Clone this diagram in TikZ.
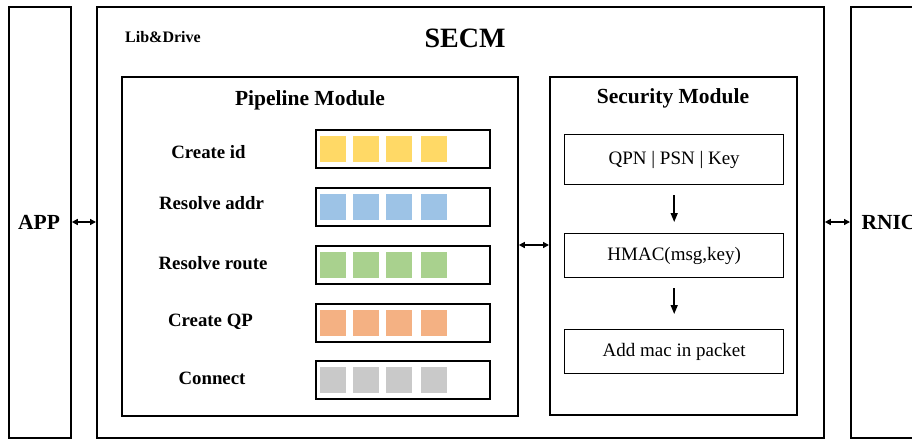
\documentclass[tikz,border=0pt]{standalone}
\usepackage{fontspec}
\setmainfont{Liberation Serif}
\usetikzlibrary{arrows.meta}
\definecolor{cyel}{HTML}{FFD966}
\definecolor{cblu}{HTML}{9DC3E6}
\definecolor{cgrn}{HTML}{A9D18E}
\definecolor{cora}{HTML}{F4B183}
\definecolor{cgry}{HTML}{C9C9C9}
\begin{document}
\begin{tikzpicture}[x=1pt,y=-1pt,
  frame/.style={draw, line width=1.8pt, anchor=north west, inner sep=0pt},
  stepbar/.style={draw, line width=1.8pt, anchor=north west, inner sep=0pt,
    minimum width=174, minimum height=38},
  secbox/.style={draw, line width=1.4pt, anchor=north west, inner sep=0pt,
    minimum width=219, minimum height=44, font=\fontsize{19}{22}\selectfont},
  sq/.style={inner sep=0pt, minimum size=26},
  steplabel/.style={font=\bfseries\fontsize{18.8}{22}\selectfont},
  title/.style={font=\bfseries\fontsize{21.5}{25}\selectfont},
  dbl/.style={{Triangle[length=6pt,width=6pt]}-{Triangle[length=6pt,width=6pt]}, line width=1.4pt},
  arr/.style={-{Triangle[length=9pt,width=7pt]}, line width=1.5pt}]
\useasboundingbox (0,0) rectangle (912,439);

% outer frames
\node[frame, minimum width=62, minimum height=431] (app) at (8,6) {};
\node[frame, minimum width=727, minimum height=431] (secm) at (96,6) {};
\node[frame, minimum width=90, minimum height=431] (rnic) at (850,6) {};
\node[title] (applbl) at (39,222) {APP};
\node[title, anchor=west] (rniclbl) at (858,222) {RNIC};
\node[font=\bfseries\fontsize{28}{32}\selectfont] (secmlbl) at (465,38) {SECM};
\node[font=\bfseries\fontsize{16}{19}\selectfont] (liblbl) at (163,37) {Lib\&Drive};

% pipeline module
\node[frame, minimum width=396, minimum height=339] (pipe) at (121,76) {};
\node[title] (pipelbl) at (310,100) {Pipeline Module};

\node[stepbar] (b1) at (315,129) {};
\node[stepbar] (b2) at (315,187) {};
\node[stepbar] (b3) at (315,245) {};
\node[stepbar] (b4) at (315,303) {};
\node[stepbar] (b5) at (315,360) {};

\node[steplabel] (l1) at (208.5,152) {Create id};
\node[steplabel] (l2) at (211.5,203) {Resolve addr};
\node[steplabel] (l3) at (213,263) {Resolve route};
\node[steplabel] (l4) at (210.5,322) {Create QP};
\node[steplabel] (l5) at (212,378) {Connect};

\foreach \b/\c in {b1/cyel, b2/cblu, b3/cgrn, b4/cora, b5/cgry}{
  \foreach \x in {18, 50.5, 83.5, 119}{
    \node[sq, fill=\c] at ([xshift=\x pt]\b.west) {};
  }
}

% security module
\node[frame, minimum width=247, minimum height=338] (sec) at (549,76) {};
\node[title] (seclbl) at (673,98) {Security Module};
\node[secbox, minimum height=50] (qpn) at (564,134) {QPN | PSN | Key};
\node[secbox] (hmac) at (564,233) {HMAC(msg,key)};
\node[secbox] (mac) at (564,329) {Add mac in packet};
\draw[arr, shorten <=10pt, shorten >=11pt] (qpn) -- (hmac);
\draw[arr, shorten <=10pt, shorten >=15pt] (hmac) -- (mac);

% interface arrows
\coordinate (ya) at (0,222);
\coordinate (yb) at (0,245);
\draw[dbl] (app.east |- ya) -- (secm.west |- ya);
\draw[dbl] (secm.east |- ya) -- (rnic.west |- ya);
\draw[dbl] (pipe.east |- yb) -- (sec.west |- yb);
\end{tikzpicture}
\end{document}
